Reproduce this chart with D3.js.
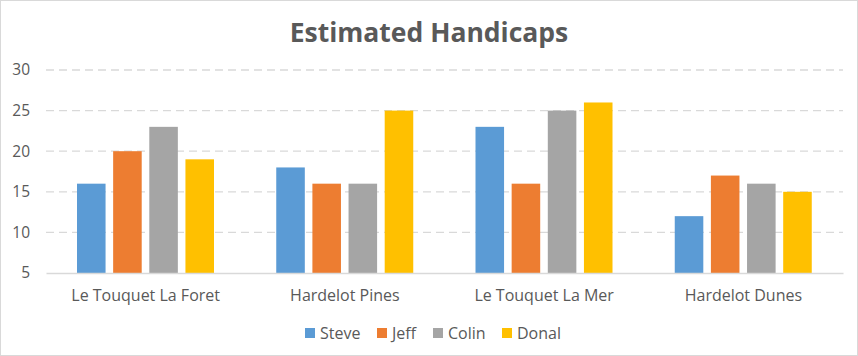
<!DOCTYPE html>
<html><head><meta charset="utf-8">
<script src="https://cdn.jsdelivr.net/npm/d3@7"></script>
<style>body{margin:0;background:#fff;} svg{display:block;}</style>
</head><body>
<svg id="c" width="858" height="356"></svg>
<script>
const categories = ["Le Touquet La Foret", "Hardelot Pines", "Le Touquet La Mer", "Hardelot Dunes"];
const series = ["Steve", "Jeff", "Colin", "Donal"];
const steve = [16, 18, 23, 12];
const jeff = [20, 16, 16, 17];
const colin = [23, 16, 25, 16];
const donal = [19, 25, 26, 15];
const yTicks = [5, 10, 15, 20, 25, 30];
const colors = ["#5B9BD5", "#ED7D31", "#A5A5A5", "#FFC000"];
const values = [steve, jeff, colin, donal];

const svg = d3.select("#c");
const font = "'Open Sans', sans-serif";
svg.append("rect").attr("x",0.5).attr("y",0.5).attr("width",857).attr("height",355)
  .attr("fill","#fff").attr("stroke","#d9d9d9");

svg.append("text").attr("x",429).attr("y",42).attr("text-anchor","middle")
  .attr("font-family",font).attr("font-weight","bold").attr("font-size",26.5)
  .attr("fill","#595959").text("Estimated Handicaps");

const x0 = d3.scaleBand().domain(categories).range([46,843]).padding(0);
const x1 = d3.scaleBand().domain(series).range([31,168]).paddingInner(0.21);
const y = d3.scaleLinear().domain([5,30]).range([273,70]);

// gridlines
svg.append("g").selectAll("line").data(yTicks.filter(t=>t!==5)).join("line")
  .attr("x1",46).attr("x2",843).attr("y1",d=>y(d)).attr("y2",d=>y(d))
  .attr("stroke","#d9d9d9").attr("stroke-width",1.3).attr("stroke-dasharray","8,5");

const yAxis = d3.axisLeft(y).tickValues(yTicks).tickSize(0).tickPadding(0);
const ya = svg.append("g").attr("transform","translate(30,0)").call(yAxis);
ya.select(".domain").remove();
ya.selectAll("text").attr("font-family",font).attr("font-size",15.5).attr("fill","#595959").attr("text-anchor","end");

// bars
const groups = svg.append("g").selectAll("g").data(categories).join("g")
  .attr("transform",d=>`translate(${x0(d)},0)`);
groups.selectAll("rect").data((c,i)=>series.map((s,j)=>({s,j,v:values[j][i]}))).join("rect")
  .attr("x",d=>x1(d.s)).attr("width",x1.bandwidth())
  .attr("y",d=>y(d.v)).attr("height",d=>y(5)-y(d.v))
  .attr("fill",d=>colors[d.j]);

// x axis
const xAxis = d3.axisBottom(x0).tickSize(0).tickPadding(17);
const xa = svg.append("g").attr("transform","translate(0,273)").call(xAxis);
xa.select(".domain").attr("stroke","#d9d9d9").attr("stroke-width",1.3);
xa.selectAll("text").attr("font-family",font).attr("font-size",16).attr("fill","#595959");

// legend
const legX = [305, 377, 433, 502];
const lg = svg.append("g").selectAll("g").data(series).join("g")
  .attr("transform",(d,i)=>`translate(${legX[i]},328)`);
lg.append("rect").attr("width",10).attr("height",10).attr("fill",(d,i)=>colors[i]);
lg.append("text").attr("x",15).attr("y",10.5).attr("font-family",font).attr("font-size",16)
  .attr("fill","#595959").text(d=>d);
</script>
</body></html>
